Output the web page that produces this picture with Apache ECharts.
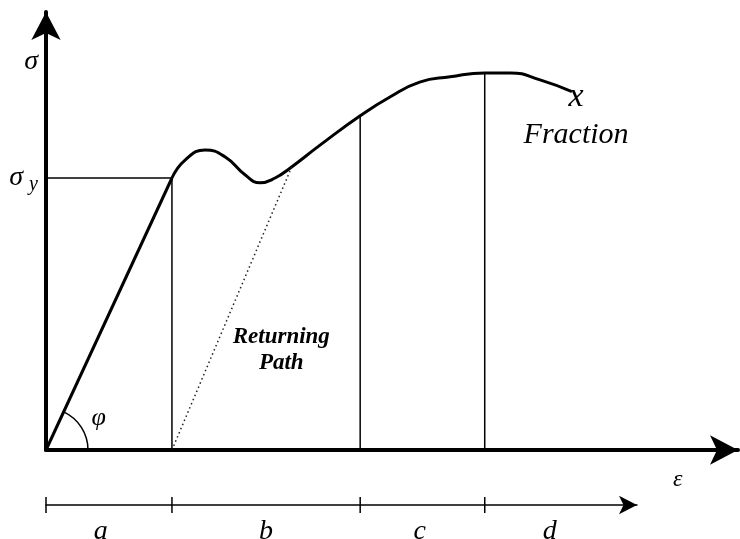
<!DOCTYPE html>
<html>
<head>
    <meta charset="UTF-8">
    <title>Stress-strain</title>
    <script src="https://cdn.jsdelivr.net/npm/echarts@6/dist/echarts.min.js"></script>
    <style>
        body { margin: 0; background: #fff; }
    </style>
</head>
<body>
<div id="main" style="width:740px; height:539px;"></div>
<script>
    // strain (x) and stress (y) in arbitrary units, 0..100
    var elasticX = [0, 18.2];
    var elasticY = [0, 62.1];
    var curveX = [18.2, 20.1, 23.0, 25.9, 28.8, 30.9, 33.1, 35.3, 39.6, 45.4, 49.7, 54.0, 58.4, 63.4, 67.1, 71.4, 76.0];
    var curveY = [62.1, 66.2, 68.5, 66.9, 62.8, 61.0, 62.1, 64.4, 69.6, 76.3, 80.6, 84.0, 85.2, 86.1, 86.1, 84.5, 81.8];
    var returnX = [18.2, 35.5];
    var returnY = [0, 64.6];
    // region borders a|b|c|d and the height where each vertical line meets the curve
    var borderX = [18.2, 45.4, 63.4];
    var borderTop = [62.1, 76.3, 86.1];
    var yieldStress = 62.1;
    var sigmaLevel = 88.6;
    var epsPos = 91.3;
    var regionNames = ['a', 'b', 'c', 'd'];
    var regionMid = [7.9, 31.8, 54.0, 72.8];
    var scaleTicks = [0, 18.2, 45.4, 63.4];

    var serif = '"Liberation Serif", "DejaVu Serif", serif';
    var ink = '#000';

    var chart = echarts.init(document.getElementById('main'), null, {renderer: 'canvas'});

    function pairs(xs, ys) {
        return xs.map(function (x, i) { return [x, ys[i]]; });
    }

    var series = [];
    // elastic part
    series.push({
        type: 'line', data: pairs(elasticX, elasticY), symbol: 'none',
        lineStyle: {color: ink, width: 3}
    });
    // plastic part
    series.push({
        type: 'line', data: pairs(curveX, curveY), symbol: 'none', smooth: 0.5,
        lineStyle: {color: ink, width: 3}
    });
    // returning path
    series.push({
        type: 'line', data: pairs(returnX, returnY), symbol: 'none',
        lineStyle: {color: '#222', width: 1.5, type: [1.5, 3]}
    });
    // yield level
    series.push({
        type: 'line', data: [[0, yieldStress], [elasticX[1], yieldStress]], symbol: 'none',
        lineStyle: {color: ink, width: 1.5}
    });
    // vertical borders
    borderX.forEach(function (x, i) {
        series.push({
            type: 'line', data: [[x, 0], [x, borderTop[i]]], symbol: 'none',
            lineStyle: {color: ink, width: 1.5}
        });
    });
    // texts on the diagram
    series.push({
        type: 'scatter', symbolSize: 0, clip: false, itemStyle: {opacity: 1},
        data: [
            {name: 'Returning\nPath', value: [34.0, 22.8], label: {fontSize: 23, lineHeight: 26, fontWeight: 'bold'}},
            {name: 'Fraction', value: [76.6, 71.9], label: {fontSize: 30}},
            {name: 'x', value: [76.6, 80.6], label: {fontSize: 34}},
            {name: 'φ', value: [7.6, 7.3], label: {fontSize: 26}}
        ],
        label: {
            show: true, position: 'inside', formatter: '{b}', color: ink, opacity: 1,
            fontFamily: serif, fontStyle: 'italic', align: 'center', verticalAlign: 'middle'
        }
    });
    // region scale below the axis
    scaleTicks.forEach(function (x) {
        series.push({
            type: 'line', xAxisIndex: 1, yAxisIndex: 1, data: [[x, -0.8], [x, 0.8]], symbol: 'none',
            lineStyle: {color: ink, width: 1.5}
        });
    });
    series.push({
        type: 'scatter', xAxisIndex: 1, yAxisIndex: 1, symbolSize: 0, clip: false, itemStyle: {opacity: 1},
        data: regionNames.map(function (n, i) { return {name: n, value: [regionMid[i], -2.7]}; }),
        label: {
            show: true, position: 'inside', formatter: '{b}', color: ink, fontSize: 28,
            fontFamily: serif, fontStyle: 'italic'
        }
    });

    var option = {
        animation: false,
        backgroundColor: '#fff',
        grid: [
            {left: 46, right: 2, top: 12, bottom: 89},
            {left: 46, right: 103, top: 495, height: 40}
        ],
        xAxis: [{
            type: 'value', gridIndex: 0, min: 0, max: 100,
            axisLine: {lineStyle: {color: ink, width: 4}, symbol: ['none', 'arrow'], symbolSize: [22, 28]},
            axisTick: {show: false}, splitLine: {show: false},
            axisLabel: {
                customValues: [epsPos], margin: 18, color: ink, fontSize: 24,
                fontFamily: serif, fontStyle: 'italic',
                formatter: function () { return 'ε'; }
            }
        }, {
            type: 'value', gridIndex: 1, min: 0, max: 85.4,
            axisLine: {onZero: true, lineStyle: {color: ink, width: 1.5}, symbol: ['none', 'arrow'], symbolSize: [14, 18]},
            axisTick: {show: false}, splitLine: {show: false}, axisLabel: {show: false}
        }],
        yAxis: [{
            type: 'value', gridIndex: 0, min: 0, max: 100,
            axisLine: {lineStyle: {color: ink, width: 4}, symbol: ['none', 'arrow'], symbolSize: [22, 28]},
            axisTick: {show: false}, splitLine: {show: false},
            axisLabel: {
                customValues: [yieldStress, sigmaLevel], margin: 8, color: ink,
                fontFamily: serif, fontStyle: 'italic',
                formatter: function (v) {
                    return v === yieldStress ? '{s|σ}{sub|y}' : '{s|σ}';
                },
                rich: {
                    s: {fontSize: 28, fontFamily: serif, fontStyle: 'italic', color: ink},
                    sub: {fontSize: 20, fontFamily: serif, fontStyle: 'italic', color: ink, padding: [14, 0, 0, 6]}
                }
            }
        }, {
            type: 'value', gridIndex: 1, min: -3, max: 1, show: true,
            axisLine: {show: false}, axisTick: {show: false}, splitLine: {show: false}, axisLabel: {show: false}
        }],
        series: series
    };
    chart.setOption(option);

    // angle arc at the origin
    var o = chart.convertToPixel({gridIndex: 0}, [0, 0]);
    var y0 = chart.convertToPixel({gridIndex: 0}, [elasticX[1], elasticY[1]]);
    var ang = Math.atan2(y0[1] - o[1], y0[0] - o[0]);
    chart.setOption({
        graphic: [{
            type: 'arc', shape: {cx: o[0], cy: o[1], r: 42, startAngle: ang, endAngle: 0, clockwise: true},
            style: {stroke: ink, lineWidth: 1.5, fill: null}
        }]
    });
</script>
</body>
</html>
